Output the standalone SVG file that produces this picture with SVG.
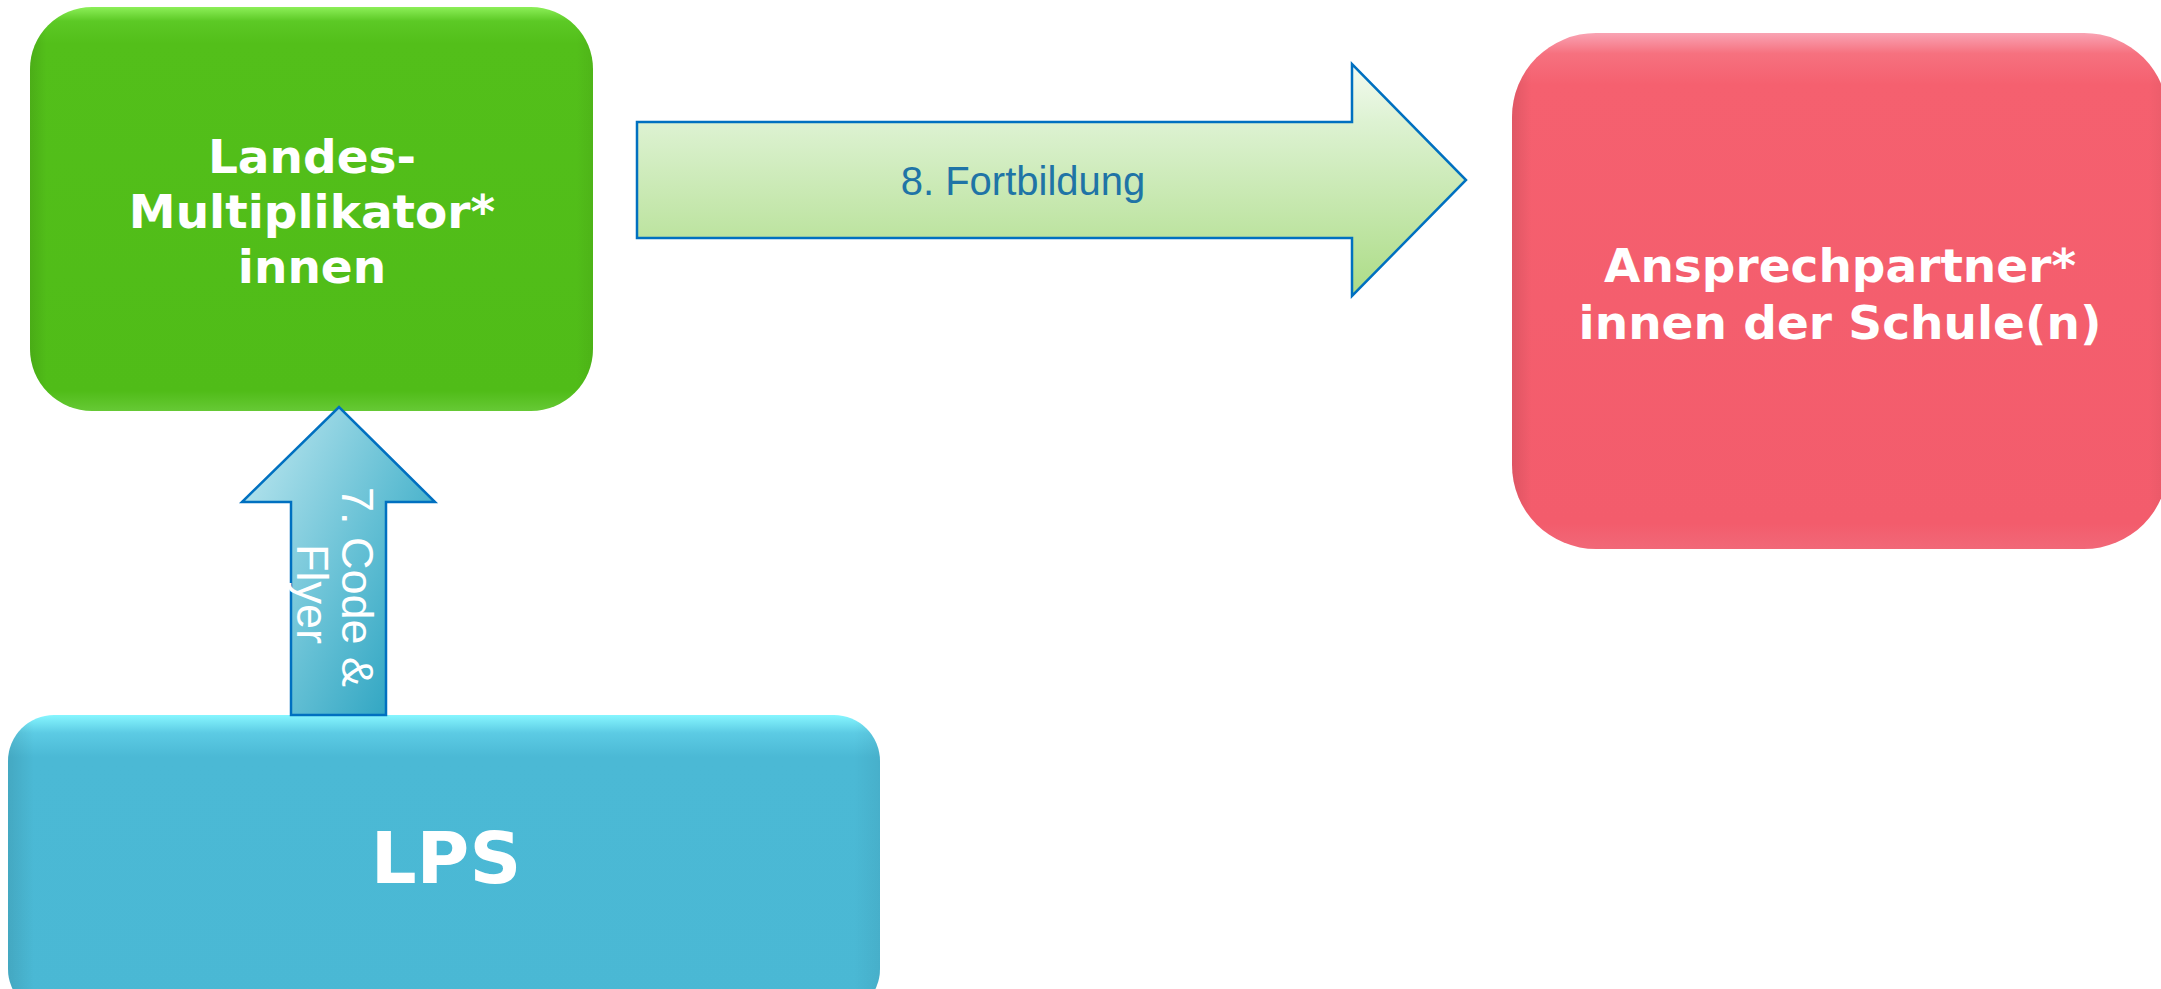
<svg xmlns="http://www.w3.org/2000/svg" width="2161" height="989" viewBox="0 0 2161 989">
<defs>
<linearGradient id="gGreen" x1="0" y1="0" x2="0" y2="1">
<stop offset="0" stop-color="#8CEF58"/>
<stop offset="0.035" stop-color="#5CC925"/>
<stop offset="0.09" stop-color="#53BF1A"/>
<stop offset="0.95" stop-color="#50BC18"/>
<stop offset="1" stop-color="#66C935"/>
</linearGradient>
<linearGradient id="gPink" x1="0" y1="0" x2="0" y2="1">
<stop offset="0" stop-color="#F9A3B3"/>
<stop offset="0.04" stop-color="#F6717F"/>
<stop offset="0.1" stop-color="#F5606F"/>
<stop offset="0.95" stop-color="#F35C6C"/>
<stop offset="1" stop-color="#F16878"/>
</linearGradient>
<linearGradient id="gBlue" x1="0" y1="0" x2="0" y2="1">
<stop offset="0" stop-color="#86F6FF"/>
<stop offset="0.06" stop-color="#5CCBE4"/>
<stop offset="0.14" stop-color="#4BB9D5"/>
<stop offset="1" stop-color="#4AB8D4"/>
</linearGradient>
<linearGradient id="gSide" x1="0" y1="0" x2="1" y2="0">
<stop offset="0" stop-color="#000" stop-opacity="0.09"/>
<stop offset="0.03" stop-color="#000" stop-opacity="0"/>
<stop offset="0.97" stop-color="#000" stop-opacity="0"/>
<stop offset="1" stop-color="#000" stop-opacity="0.05"/>
</linearGradient>
<linearGradient id="gRight" x1="0" y1="0" x2="0" y2="1">
<stop offset="0" stop-color="#F4FBF1"/>
<stop offset="0.25" stop-color="#DDF2D2"/>
<stop offset="1" stop-color="#ACDC86"/>
</linearGradient>
<linearGradient id="gUp" x1="0" y1="0.25" x2="1" y2="1">
<stop offset="0" stop-color="#B2E2EC"/>
<stop offset="0.5" stop-color="#63BFD4"/>
<stop offset="1" stop-color="#1B9BBB"/>
</linearGradient>
<style>
.box-label{font-family:"DejaVu Sans",Verdana,sans-serif;font-weight:bold;fill:#FFFFFF;text-anchor:middle}
.arrow{stroke:#0070C0;stroke-width:2.5;stroke-linejoin:miter}
.arrow-label{font-family:"Liberation Sans",Arial,sans-serif;text-anchor:middle}
</style>
</defs>

<g id="node-landes">
<rect x="30" y="7" width="563" height="404" rx="62" ry="62" fill="url(#gGreen)"/>
<rect x="30" y="7" width="563" height="404" rx="62" ry="62" fill="url(#gSide)"/>
<text class="box-label" font-size="47"><tspan x="312" y="173">Landes-</tspan><tspan x="312" y="228">Multiplikator*</tspan><tspan x="312" y="283">innen</tspan></text>
</g>

<g id="node-ansprech">
<rect x="1512" y="33" width="656" height="516" rx="84" ry="84" fill="url(#gPink)"/>
<rect x="1512" y="33" width="656" height="516" rx="84" ry="84" fill="url(#gSide)"/>
<text class="box-label" font-size="47"><tspan x="1840" y="282">Ansprechpartner*</tspan><tspan x="1840" y="339">innen der Schule(n)</tspan></text>
</g>

<g id="node-lps">
<rect x="8" y="715" width="872" height="300" rx="46" ry="46" fill="url(#gBlue)"/>
<rect x="8" y="715" width="872" height="300" rx="46" ry="46" fill="url(#gSide)"/>
<text class="box-label" font-size="72" x="446" y="883">LPS</text>
</g>

<g id="connectors">
<g id="arrow-fortbildung">
<path class="arrow" fill="url(#gRight)" d="M637,122 L1352,122 L1352,64 L1466,180 L1352,296 L1352,238 L637,238 Z"/>
<text class="arrow-label" font-size="40" fill="#1F74A6" x="1023" y="195">8. Fortbildung</text>
</g>
<g id="arrow-code">
<path class="arrow" fill="url(#gUp)" d="M291,715 L291,502 L242,502 L339,407 L435,502 L386,502 L386,715 Z"/>
<text class="arrow-label" font-size="45" fill="#FFFFFF" transform="translate(342,587) rotate(90)" x="0" y="0">7. Code &amp;</text>
<text class="arrow-label" font-size="45" fill="#FFFFFF" transform="translate(297,594) rotate(90)" x="0" y="0">Flyer</text>
</g>
</g>
</svg>
